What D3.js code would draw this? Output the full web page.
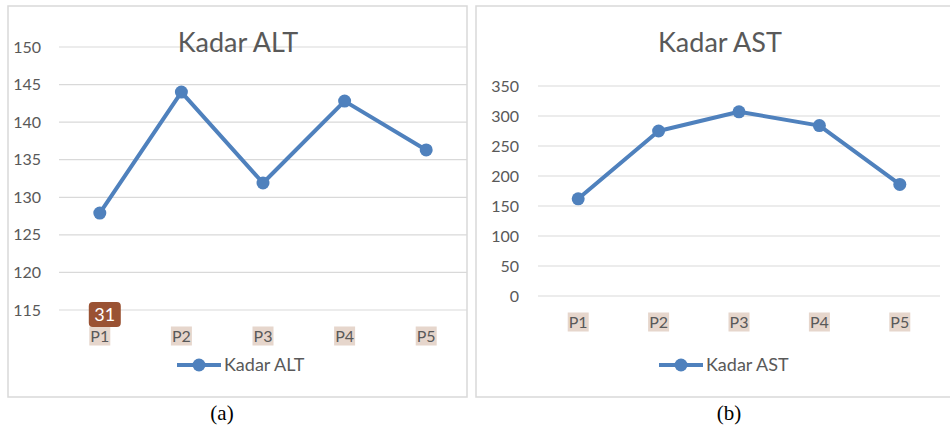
<!DOCTYPE html>
<html><head><meta charset="utf-8">
<script src="https://cdn.jsdelivr.net/npm/d3@7"></script>
<style>body{margin:0;background:#fff}svg{display:block}</style>
</head><body>
<svg id="c" width="950" height="427"></svg>
<script>
const categories = ["P1","P2","P3","P4","P5"];
const altValues = [127.9, 144.0, 131.9, 142.8, 136.3];
const astValues = [162, 275, 307, 284, 186];
const altTicks = [115,120,125,130,135,140,145,150];
const astTicks = [0,50,100,150,200,250,300,350];

const svg = d3.select("#c");
const font = "Lato, 'Open Sans', sans-serif";
const blue = "#4f81bd";
const grey = "#595959";

function panel(o){
  const g = svg.append("g");
  g.append("rect").attr("x",o.box[0]).attr("y",o.box[1]).attr("width",o.box[2]).attr("height",o.box[3])
    .attr("fill","#fff").attr("stroke","#d9d9d9").attr("stroke-width",1.5);
  const x = d3.scaleBand().domain(categories).range(o.xr);
  const y = d3.scaleLinear().domain(o.yd).range(o.yr);
  g.append("g").selectAll("line").data(o.ticks).join("line")
    .attr("x1",o.xr[0]).attr("x2",o.xr[1]).attr("y1",d=>y(d)).attr("y2",d=>y(d))
    .attr("stroke","#d9d9d9").attr("stroke-width",1.2);
  g.append("g").selectAll("text").data(o.ticks).join("text")
    .attr("x",o.ylx).attr("y",d=>y(d)).attr("dy","0.35em").attr("text-anchor","end")
    .attr("font-family",font).attr("font-size",16).attr("fill",grey).text(d=>d);
  g.append("text").attr("x",o.tx).attr("y",52).attr("text-anchor","middle")
    .attr("font-family",font).attr("font-size",27).attr("fill",grey).text(o.title);
  const xl = g.append("g").selectAll("g").data(categories).join("g")
    .attr("transform",d=>`translate(${x(d)+x.bandwidth()/2},${o.xly})`);
  xl.append("rect").attr("x",-10.5).attr("y",-9.5).attr("width",21).attr("height",19).attr("fill","#e6d6cc");
  xl.append("text").attr("text-anchor","middle").attr("dy","0.36em")
    .attr("font-family",font).attr("font-size",16).attr("fill",grey).text(d=>d);
  const line = d3.line().x((d,i)=>x(categories[i])+x.bandwidth()/2).y(d=>y(d));
  g.append("path").datum(o.values).attr("d",line).attr("fill","none").attr("stroke",blue)
    .attr("stroke-width",4).attr("stroke-linejoin","round");
  g.append("g").selectAll("circle").data(o.values).join("circle")
    .attr("cx",(d,i)=>x(categories[i])+x.bandwidth()/2).attr("cy",d=>y(d)).attr("r",6.5).attr("fill",blue);
  g.append("line").attr("x1",o.lx).attr("x2",o.lx+44).attr("y1",365).attr("y2",365)
    .attr("stroke",blue).attr("stroke-width",4);
  g.append("circle").attr("cx",o.lx+22).attr("cy",365).attr("r",6.5).attr("fill",blue);
  g.append("text").attr("x",o.lx+47).attr("y",365).attr("dy","0.36em")
    .attr("font-family",font).attr("font-size",18).attr("fill",grey).text(o.title);
  svg.append("text").attr("x",o.cx).attr("y",420).attr("text-anchor","middle")
    .attr("font-family","'Liberation Serif','DejaVu Serif',serif").attr("font-size",21).attr("fill","#000").text(o.cap);
  return {x,y,g};
}

const a = panel({box:[8,6,459,391], xr:[59,467], yd:[115,150], yr:[310,47], ticks:altTicks, ylx:41,
  tx:238, xly:336, values:altValues, title:"Kadar ALT", lx:177, cx:222, cap:"(a)"});
const bx = a.x("P1")+a.x.bandwidth()/2;
a.g.append("rect").attr("x",bx-11).attr("y",302).attr("width",32).attr("height",25).attr("rx",4)
  .attr("fill","#9a5233");
a.g.append("text").attr("x",bx+5).attr("y",315).attr("dy","0.36em").attr("text-anchor","middle")
  .attr("font-family",font).attr("font-size",18).attr("fill","#fff").text("31");

panel({box:[476,6,480,391], xr:[538,940], yd:[0,350], yr:[296,86], ticks:astTicks, ylx:519,
  tx:720, xly:322, values:astValues, title:"Kadar AST", lx:659, cx:729, cap:"(b)"});
</script>
</body></html>
